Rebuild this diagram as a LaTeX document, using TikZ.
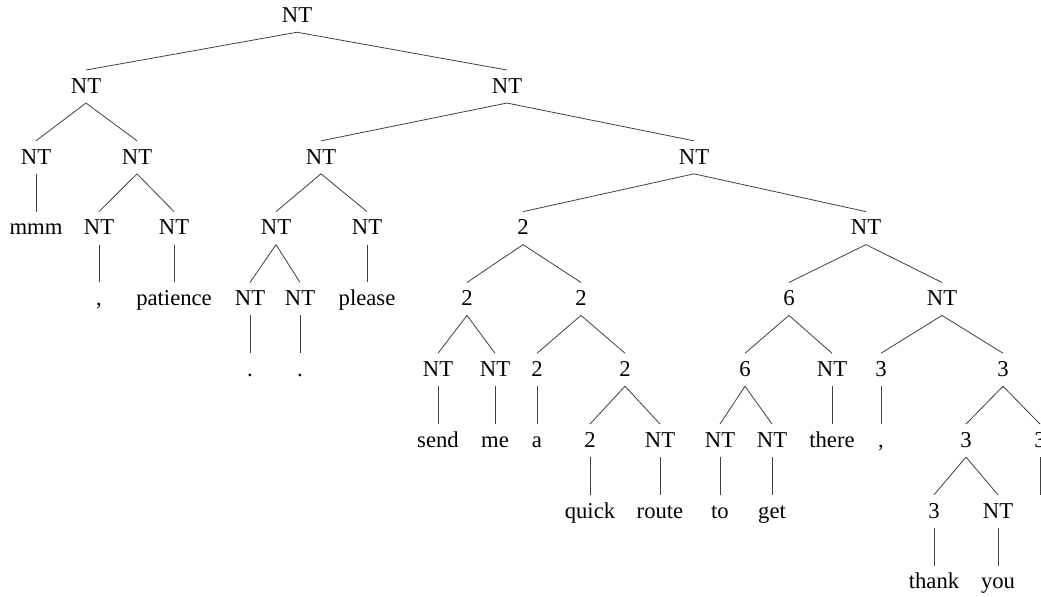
\documentclass[tikz,border=0pt]{standalone}
\usepackage{fontspec}
\setmainfont{Liberation Serif}
\begin{document}
\begin{tikzpicture}[x=0.75pt,y=-0.75pt,
  lab/.style={anchor=base,inner sep=0pt,text height=17.25pt,text depth=7.1pt,font=\fontsize{17}{20}\selectfont},
  br/.style={draw=black!75,line width=0.6pt}]
\useasboundingbox (0,0) rectangle (1041,596);
\clip (0,0) rectangle (1041,596);
% level baselines
\def\bA{22.5}\def\bB{93.3}\def\bC{164.1}\def\bD{234.9}\def\bE{305.7}
\def\bF{376.5}\def\bG{447.3}\def\bH{518.1}\def\bI{588.9}
% level 0
\node[lab] (r) at (297,\bA) {NT};
% level 1
\node[lab] (a) at (86,\bB) {NT};
\node[lab] (b) at (507,\bB) {NT};
% level 2
\node[lab] (a1) at (36,\bC) {NT};
\node[lab] (a2) at (137,\bC) {NT};
\node[lab] (b1) at (321,\bC) {NT};
\node[lab] (b2) at (694,\bC) {NT};
% level 3
\node[lab] (wmmm) at (36,\bD) {mmm};
\node[lab] (a2l) at (99,\bD) {NT};
\node[lab] (a2r) at (174,\bD) {NT};
\node[lab] (b1l) at (276,\bD) {NT};
\node[lab] (b1r) at (367,\bD) {NT};
\node[lab] (b2l) at (523,\bD) {2};
\node[lab] (b2r) at (866,\bD) {NT};
% level 4
\node[lab] (wcommaA) at (99,\bE) {,};
\node[lab] (wpatience) at (174,\bE) {patience};
\node[lab] (b1ll) at (250,\bE) {NT};
\node[lab] (b1lr) at (300,\bE) {NT};
\node[lab] (wplease) at (367,\bE) {please};
\node[lab] (c1) at (467,\bE) {2};
\node[lab] (c2) at (581,\bE) {2};
\node[lab] (d1) at (789,\bE) {6};
\node[lab] (d2) at (942,\bE) {NT};
% level 5
\node[lab] (wdotA) at (250,\bF) {.};
\node[lab] (wdotB) at (300,\bF) {.};
\node[lab] (c1l) at (438,\bF) {NT};
\node[lab] (c1r) at (495,\bF) {NT};
\node[lab] (c2l) at (537,\bF) {2};
\node[lab] (c2r) at (625,\bF) {2};
\node[lab] (d1l) at (745,\bF) {6};
\node[lab] (d1r) at (832,\bF) {NT};
\node[lab] (d2l) at (881,\bF) {3};
\node[lab] (d2r) at (1003,\bF) {3};
% level 6
\node[lab] (wsend) at (438,\bG) {send};
\node[lab] (wme) at (495,\bG) {me};
\node[lab] (wa) at (537,\bG) {a};
\node[lab] (c2rl) at (590,\bG) {2};
\node[lab] (c2rr) at (660,\bG) {NT};
\node[lab] (d1ll) at (720,\bG) {NT};
\node[lab] (d1lr) at (772,\bG) {NT};
\node[lab] (wthere) at (832,\bG) {there};
\node[lab] (wcommaB) at (881,\bG) {,};
\node[lab] (e1) at (966,\bG) {3};
\node[lab] (e2) at (1040,\bG) {3};
% level 7
\node[lab] (wquick) at (590,\bH) {quick};
\node[lab] (wroute) at (660,\bH) {route};
\node[lab] (wto) at (720,\bH) {to};
\node[lab] (wget) at (772,\bH) {get};
\node[lab] (e1l) at (934,\bH) {3};
\node[lab] (e1r) at (998,\bH) {NT};
\coordinate (e2leaf) at (1040,495);
% level 8
\node[lab] (wthank) at (934,\bI) {thank};
\node[lab] (wyou) at (998,\bI) {you};
% branches
\foreach \p/\c in {r/a,r/b,a/a1,a/a2,b/b1,b/b2,
  a1/wmmm,a2/a2l,a2/a2r,b1/b1l,b1/b1r,b2/b2l,b2/b2r,
  a2l/wcommaA,a2r/wpatience,b1l/b1ll,b1l/b1lr,b1r/wplease,b2l/c1,b2l/c2,b2r/d1,b2r/d2,
  b1ll/wdotA,b1lr/wdotB,c1/c1l,c1/c1r,c2/c2l,c2/c2r,d1/d1l,d1/d1r,d2/d2l,d2/d2r,
  c1l/wsend,c1r/wme,c2l/wa,c2r/c2rl,c2r/c2rr,d1l/d1ll,d1l/d1lr,d1r/wthere,d2l/wcommaB,d2r/e1,d2r/e2,
  c2rl/wquick,c2rr/wroute,d1ll/wto,d1lr/wget,e1/e1l,e1/e1r,
  e1l/wthank,e1r/wyou}
  \draw[br] (\p.south) -- (\c.north);
\draw[br] (e2.south) -- (e2leaf);
\end{tikzpicture}
\end{document}
